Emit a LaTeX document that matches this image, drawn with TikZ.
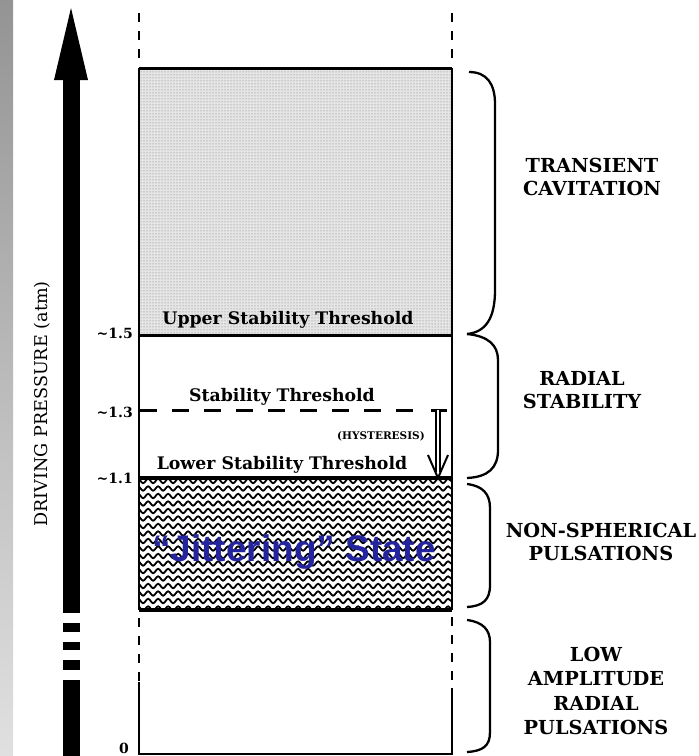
\documentclass[tikz,border=0pt]{standalone}
\usepackage{fontspec}
\setmainfont{DejaVu Serif}
\newfontfamily\jitterfont{Liberation Sans}
\usetikzlibrary{patterns}
\usetikzlibrary{decorations.pathmorphing}
\definecolor{jitterblue}{RGB}{36,36,158}
\definecolor{stipple}{gray}{0.9}
\tikzset{region/.style={font=\bfseries\fontsize{19.3}{23.5}\selectfont,
                        align=center,inner sep=0pt}}
\tikzset{level/.style={font=\bfseries\fontsize{14}{16}\selectfont,
                       anchor=east,inner sep=1pt}}
\tikzset{threshold/.style={font=\bfseries\fontsize{17.3}{20}\selectfont,inner sep=0pt}}
\tikzset{bound/.style={line width=2.4pt}}
\tikzset{edgedash/.style={line width=2.2pt,dash pattern=on 9pt off 9pt}}
\tikzset{bracket/.style={line width=2.3pt}}
\tikzset{wave/.style={line width=1.8pt,decorate,
                      decoration={snake,segment length=10pt,amplitude=2.2pt}}}

\begin{document}
\begin{tikzpicture}[x=1pt,y=-1pt]

    \useasboundingbox (0,0) rectangle (699,756);
    \shade[top color=black!42,bottom color=black!12] (0,0) rectangle (13,756);

    % pressure axis
    \fill (63,80) rectangle (80,613);
    \fill (54,80) -- (71,8) -- (88,80) -- cycle;
    \foreach \ya/\yb in {623/632,642/650,660/670}
        \fill (63,\ya) rectangle (80,\yb);
    \fill (63,680) rectangle (80,756);
    \node[rotate=90,font=\fontsize{17.6}{20}\selectfont] (axis) at (42,404)
        {DRIVING PRESSURE (atm)};

    \coordinate (tl) at (139,68);
    \coordinate (tr) at (452,68);
    \coordinate (ul) at (139,335);
    \coordinate (ur) at (452,335);
    \coordinate (ll) at (139,478);
    \coordinate (lr) at (452,478);
    \coordinate (jl) at (139,610);
    \coordinate (jr) at (452,610);
    \coordinate (bl) at (139,754);
    \coordinate (br) at (452,754);

    % transient cavitation
    \fill[stipple] (tl) rectangle (ur);
    \fill[pattern=dots,pattern color=black!55] (tl) rectangle (ur);

    % jittering state
    \begin{scope}
        \clip (ll) rectangle (jr);
        \foreach \y in {481,488.5,...,612}
            \draw[wave] (135,\y) -- (456,\y);
    \end{scope}

    \draw[bound] (ul) -- (jl);
    \draw[bound] (ur) -- (jr);
    \draw[bound] (tl) -- (ul);
    \draw[bound] (tr) -- (ur);
    \draw[line width=3pt] (tl) -- (tr);
    \draw[line width=3pt] (ul) -- (ur);
    \draw[line width=3.5pt] (ll) -- (lr);
    \draw[line width=4.5pt] (jl) -- (jr);

    \draw[edgedash] (139,13) -- (139,62);
    \draw[edgedash] (452,13) -- (452,62);
    \draw[edgedash] (139,618) -- (139,682);
    \draw[edgedash] (452,617) -- (452,682);
    \draw[bound] (139,682) -- (bl) -- (br) -- (452,688);

    % stability threshold and hysteresis
    \draw[line width=3pt,dash pattern=on 17pt off 15pt] (140,410) -- (413,410);
    \coordinate (hystop) at (438,410);
    \coordinate (hystip) at (438,478);
    \draw[line width=3pt] (431,410) -- (447,410);
    \draw[double,double distance=2.5pt,line width=1.8pt] (hystop) -- (438,472);
    \draw[line width=2pt] (428,455) -- (hystip) -- (448,455);

    \node[threshold] (upper) at (288,320) {Upper Stability Threshold};
    \node[threshold] (stab) at (282,397) {Stability Threshold};
    \node[threshold] (lower) at (282,465) {Lower Stability Threshold};
    \node[font=\bfseries\fontsize{10.5}{12}\selectfont,inner sep=0pt] (hys) at (381,436)
        {(HYSTERESIS)};
    \node[font=\jitterfont\bfseries\fontsize{37}{40}\selectfont,text=jitterblue,
          inner sep=0pt] (jitter) at (294,552) {“Jittering” State};

    \node[level] (p15) at (134,333) {\textasciitilde1.5};
    \node[level] (p13) at (134,412) {\textasciitilde1.3};
    \node[level] (p11) at (134,478) {\textasciitilde1.1};
    \node[level] (p0) at (130,748) {0};

    % regions
    \draw[bracket] (469,72) .. controls (487,72) and (495,84) .. (495,104)
        -- (495,290) .. controls (495,318) and (486,332) .. (467,334);
    \draw[bracket] (467,334) .. controls (488,336) and (498,345) .. (498,360)
        -- (498,450) .. controls (498,468) and (488,477) .. (467,478);
    \draw[bracket] (467,484) .. controls (483,486) and (490,494) .. (490,508)
        -- (490,585) .. controls (490,600) and (483,606) .. (467,607);
    \draw[bracket] (467,620) .. controls (483,622) and (490,630) .. (490,642)
        -- (490,732) .. controls (490,746) and (483,751) .. (467,752);

    \node[region] (transient) at (592,177) {TRANSIENT\\CAVITATION};
    \node[region] (radial) at (582,390) {RADIAL\\STABILITY};
    \node[region] (nonsph) at (601,542) {NON-SPHERICAL\\PULSATIONS};
    \node[region,font=\bfseries\fontsize{19.3}{24.3}\selectfont] (lowamp) at (596,691)
        {LOW\\AMPLITUDE\\RADIAL\\PULSATIONS};

\end{tikzpicture}
\end{document}
